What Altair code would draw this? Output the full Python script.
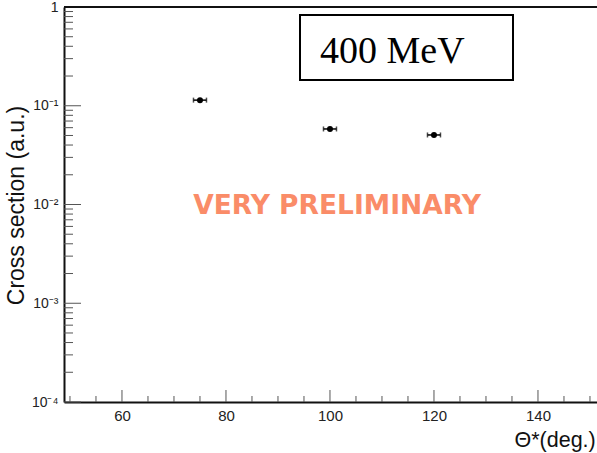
import altair as alt
import pandas as pd

# ---- data ----
theta = [75, 100, 120]              # Theta* (deg.)
xsec = [0.114, 0.0582, 0.0506]      # cross section (a.u.)
theta_err = [1.25, 1.25, 1.25]      # horizontal error
xsec_err = [0.003, 0.0015, 0.0013]  # vertical error (tiny)

x_major = [60, 80, 100, 120, 140]
x_minor = [50, 55, 65, 70, 75, 85, 90, 95, 105, 110, 115, 125, 130, 135, 145, 150]
y_major = [1e-4, 1e-3, 1e-2, 1e-1, 1]
y_minor = [m * d for d in [1e-4, 1e-3, 1e-2, 1e-1] for m in range(2, 10)]

df = pd.DataFrame({
    "theta": theta,
    "xs": xsec,
    "lo": [t - e for t, e in zip(theta, theta_err)],
    "hi": [t + e for t, e in zip(theta, theta_err)],
    "ylo": [v - e for v, e in zip(xsec, xsec_err)],
    "yhi": [v + e for v, e in zip(xsec, xsec_err)],
})

W, H = 533, 395
x_scale = alt.Scale(domain=[48.85, 151.35], nice=False, zero=False)
y_scale = alt.Scale(type="log", domain=[1e-4, 1], nice=False)

x_axis = alt.Axis(
    values=x_major, ticks=False, grid=False, domainColor="#111", domainWidth=2,
    labelFont="Liberation Sans", labelFontSize=15, labelColor="#222", labelPadding=6,
    title="Θ*(deg.)", titleFont="Liberation Sans", titleFontSize=21.5, titleFontWeight="normal",
    titleColor="#111", titleAlign="left", titleAnchor="start", titleX=450, titleY=38,
    titleBaseline="middle",
)
y_axis = alt.Axis(
    values=y_major, ticks=False, grid=False, domainColor="#111", domainWidth=2,
    labelExpr="datum.value >= 0.5 ? '1' : datum.value >= 0.05 ? '10⁻¹' : datum.value >= 0.005 ? '10⁻²' : datum.value >= 0.0005 ? '10⁻³' : '10⁻⁴'",
    labelFont="Liberation Sans", labelFontSize=14, labelColor="#222", labelPadding=6,
    title="Cross section (a.u.)", titleFont="Liberation Sans", titleFontSize=23,
    titleFontWeight="normal", titleColor="#111", titleX=-48, titleY=198,
    titleBaseline="middle", titleAngle=270,
)


def X(field):
    return alt.X(field, type="quantitative", scale=x_scale, axis=x_axis)


def Y(field):
    return alt.Y(field, type="quantitative", scale=y_scale, axis=y_axis)


base = alt.Chart(df)

err_h = base.mark_rule(color="black", strokeWidth=1.5).encode(x=X("lo"), x2="hi", y=Y("xs"))
err_v = base.mark_rule(color="black", strokeWidth=1.5).encode(x=X("theta"), y=Y("ylo"), y2="yhi")
cap_lo = base.mark_tick(orient="vertical", size=5, thickness=1.5, color="black").encode(x=X("lo"), y=Y("xs"))
cap_hi = base.mark_tick(orient="vertical", size=5, thickness=1.5, color="black").encode(x=X("hi"), y=Y("xs"))
pts = base.mark_circle(size=36, color="black", opacity=1).encode(x=X("theta"), y=Y("xs"))

ymaj = alt.Chart(pd.DataFrame({"v": y_major})).mark_rule(color="#555", strokeWidth=1).encode(
    y=Y("v"), x=alt.value(0), x2=alt.value(17))
ymin = alt.Chart(pd.DataFrame({"v": y_minor})).mark_rule(color="#555", strokeWidth=1).encode(
    y=Y("v"), x=alt.value(0), x2=alt.value(9))
xmaj = alt.Chart(pd.DataFrame({"v": x_major})).mark_rule(color="#555", strokeWidth=1).encode(
    x=X("v"), y=alt.value(H), y2=alt.value(H - 12))
xmin = alt.Chart(pd.DataFrame({"v": x_minor})).mark_rule(color="#555", strokeWidth=1).encode(
    x=X("v"), y=alt.value(H), y2=alt.value(H - 6))

top = alt.Chart(pd.DataFrame({"v": [1]})).mark_rule(color="#111", strokeWidth=2).encode(
    y=alt.value(0))

prelim = alt.Chart(pd.DataFrame({"t": ["VERY PRELIMINARY"]})).mark_text(
    font="DejaVu Sans", fontSize=26.5, fontWeight="bold", color="#fa8c68",
    align="center", baseline="middle").encode(
    text="t:N", x=alt.value(273), y=alt.value(199))

box = alt.Chart(pd.DataFrame({"t": ["400 MeV"]})).mark_rect(
    fill="white", stroke="black", strokeWidth=2).encode(
    x=alt.value(236), x2=alt.value(449), y=alt.value(8), y2=alt.value(73))
box_text = alt.Chart(pd.DataFrame({"t": ["400 MeV"]})).mark_text(
    font="Liberation Serif", fontSize=38, color="black", align="left",
    baseline="alphabetic").encode(text="t:N", x=alt.value(256), y=alt.value(56))

chart = alt.layer(
    ymin, ymaj, xmin, xmaj, top, prelim, err_h, err_v, cap_lo, cap_hi, pts, box, box_text
).properties(
    width=W, height=H,
    autosize=alt.AutoSizeParams(type="none"),
    padding={"left": 64, "top": 7, "right": 0, "bottom": 51},
    background="white",
).configure_view(stroke=None)

chart.save("out.html", embed_options={"renderer": "svg", "actions": False})
